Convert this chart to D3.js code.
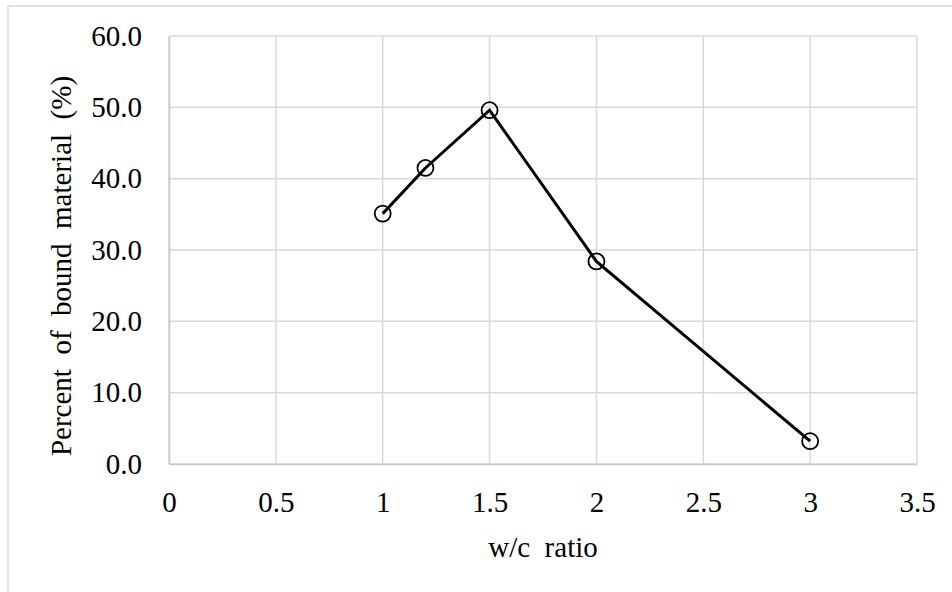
<!DOCTYPE html>
<html><head><meta charset="utf-8">
<script src="https://cdn.jsdelivr.net/npm/d3@7"></script>
<style>
html,body{margin:0;padding:0;background:#fff;}
svg{display:block;}
text{font-family:"Liberation Serif","Times New Roman",serif;fill:#000;}
</style></head>
<body><div id="chart"></div>
<script>
const wcRatio = [1, 1.2, 1.5, 2, 3];
const boundPercent = [35.1, 41.5, 49.6, 28.4, 3.2];
const xTicks = [0, 0.5, 1, 1.5, 2, 2.5, 3, 3.5];
const yTicks = [0, 10, 20, 30, 40, 50, 60];
const xLabel = "w/c  ratio";
const yLabel = "Percent  of  bound  material  (%)";

const W = 952, H = 592;
const FS = 29;
const m = {left:169, right:W-917, top:36, bottom:H-464};
const svg = d3.select("#chart").append("svg").attr("width", W).attr("height", H);

svg.append("rect").attr("x", 8).attr("y", 6).attr("width", W+10).attr("height", H+10)
  .attr("fill", "none").attr("stroke", "#d9d9d9").attr("stroke-width", 1.5);

const x = d3.scaleLinear().domain([0, 3.5]).range([m.left, W - m.right]);
const y = d3.scaleLinear().domain([0, 60]).range([H - m.bottom, m.top]);

const grid = svg.append("g");
grid.selectAll(".vx").data(xTicks).join("line")
  .attr("x1", d => x(d)).attr("x2", d => x(d)).attr("y1", y(0)).attr("y2", y(60))
  .attr("stroke", "#d9d9d9").attr("stroke-width", 1.5);
grid.selectAll(".hy").data(yTicks).join("line")
  .attr("x1", x(0)).attr("x2", x(3.5)).attr("y1", d => y(d)).attr("y2", d => y(d))
  .attr("stroke", "#d9d9d9").attr("stroke-width", 1.5);

const xAxis = d3.axisBottom(x).tickValues(xTicks).tickSize(0).tickPadding(27)
  .tickFormat(d => String(d));
const gx = svg.append("g").attr("transform", `translate(0,${y(0)})`).call(xAxis);
gx.select(".domain").attr("stroke", "#c8c8c8").attr("stroke-width", 1.5);
gx.selectAll("text").attr("font-size", FS);

const yAxis = d3.axisLeft(y).tickValues(yTicks).tickSize(0).tickPadding(27)
  .tickFormat(d3.format(".1f"));
const gy = svg.append("g").attr("transform", `translate(${x(0)},0)`).call(yAxis);
gy.select(".domain").attr("stroke", "#c8c8c8").attr("stroke-width", 1.5);
gy.selectAll("text").attr("font-size", FS);

const pts = wcRatio.map((v, i) => [v, boundPercent[i]]);
svg.append("path").datum(pts)
  .attr("fill", "none").attr("stroke", "#000").attr("stroke-width", 3)
  .attr("d", d3.line().x(d => x(d[0])).y(d => y(d[1])));
svg.selectAll(".pt").data(pts).join("circle")
  .attr("cx", d => x(d[0])).attr("cy", d => y(d[1])).attr("r", 8)
  .attr("fill", "none").attr("stroke", "#000").attr("stroke-width", 1.8);

svg.append("text").attr("x", (x(0) + x(3.5)) / 2).attr("y", 557)
  .attr("text-anchor", "middle").attr("font-size", FS)
  .style("white-space", "pre").text(xLabel);
svg.append("text").attr("transform", `translate(71,266) rotate(-90)`)
  .attr("text-anchor", "middle").attr("font-size", FS)
  .style("white-space", "pre").text(yLabel);
</script></body></html>
